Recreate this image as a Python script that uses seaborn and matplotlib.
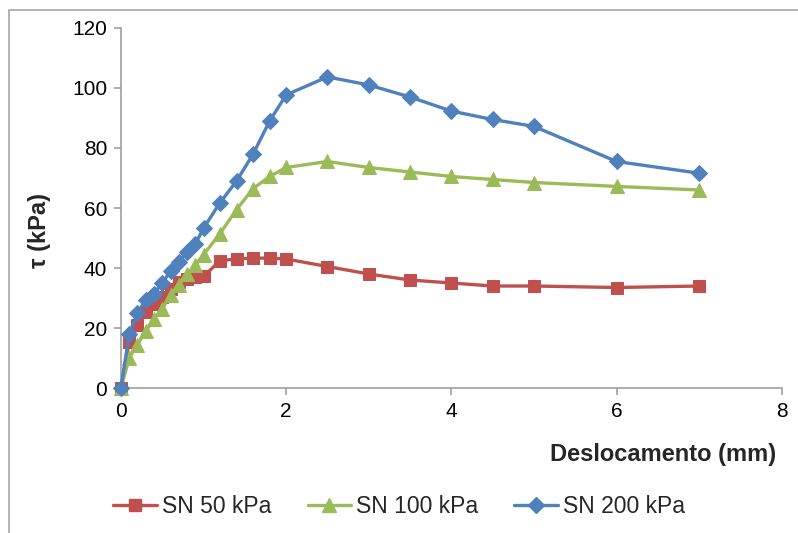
import matplotlib
matplotlib.use("Agg")
import matplotlib.pyplot as plt
import seaborn as sns
import pandas as pd
from matplotlib.lines import Line2D
from matplotlib.patches import Rectangle

x_vals = [0, 0.1, 0.2, 0.3, 0.4, 0.5, 0.6, 0.7, 0.8, 0.9, 1.0, 1.2, 1.4, 1.6, 1.8, 2.0,
          2.5, 3.0, 3.5, 4.0, 4.5, 5.0, 6.0, 7.0]
sn50 = [0, 15.5, 21, 25.5, 28, 30.5, 33, 35.5, 36.5, 37, 37.2, 42.5, 43, 43.3, 43.3, 43,
        40.5, 38, 36, 35, 34, 34, 33.5, 34]
sn100 = [0, 10, 14.5, 19, 23, 26.5, 31, 34.5, 38, 41, 44.5, 51.5, 59.5, 66.5, 70.5, 73.5,
         75.5, 73.5, 72, 70.5, 69.5, 68.5, 67.2, 66]
sn200 = [0, 18, 25, 29.5, 31.5, 35, 39, 42, 45.5, 48, 53.3, 61.8, 69, 78, 89, 97.7,
         103.7, 101, 97, 92.3, 89.5, 87.2, 75.5, 71.6]
series_names = ["SN 50 kPa", "SN 100 kPa", "SN 200 kPa"]
x_ticks = [0, 2, 4, 6, 8]
y_ticks = [0, 20, 40, 60, 80, 100, 120]

colors = ["#C0504D", "#9BBB59", "#4F81BD"]
markers = ["s", "^", "D"]
msizes = [8.5, 10, 8]

sns.set_theme(style="white")
plt.rcParams['font.family'] = ['Liberation Sans', 'DejaVu Sans']

fig = plt.figure(figsize=(7.98, 5.33), dpi=100)
ax = fig.add_axes([0.1516, 0.272, 0.828, 0.6755])

for name, vals, c, m, ms in zip(series_names, [sn50, sn100, sn200], colors, markers, msizes):
    df = pd.DataFrame({"x": x_vals, "y": vals})
    sns.lineplot(data=df, x="x", y="y", ax=ax, color=c, marker=m, markersize=ms,
                 markeredgecolor=c, linewidth=2.4, sort=False, estimator=None,
                 clip_on=False, zorder=3)

ax.set_xlim(0, 8)
ax.set_ylim(0, 120)
ax.set_xticks(x_ticks)
ax.set_yticks(y_ticks)
ax.set_xticklabels([str(t) for t in x_ticks])
ax.set_yticklabels([str(t) for t in y_ticks])
for s in ["top", "right"]:
    ax.spines[s].set_visible(False)
for s in ["left", "bottom"]:
    ax.spines[s].set_color("#A0A0A0")
    ax.spines[s].set_linewidth(1.2)
ax.tick_params(axis="both", which="major", direction="out", length=5, width=1.2,
               color="#A0A0A0", labelsize=15, labelcolor="black", pad=5,
               bottom=True, left=True)
ax.set_xlabel("")
ax.set_ylabel("")
ax.grid(False)

fig.text(0.05, 0.567, "τ (kPa)", rotation=90, ha="center", va="center",
         fontsize=17, fontweight="bold")
fig.text(0.972, 0.147, "Deslocamento (mm)", ha="right", va="center",
         fontsize=17, fontweight="bold")

handles = [Line2D([0], [0], color=c, marker=m, markersize=ms, linewidth=2.4,
                  markeredgecolor=c) for c, m, ms in zip(colors, markers, msizes)]
fig.legend(handles, series_names, loc="center", bbox_to_anchor=(0.5, 0.05),
           ncol=3, frameon=False, fontsize=16.5, handlelength=1.9, handletextpad=0.2,
           columnspacing=1.6)

fig.patches.append(Rectangle((0.011, -0.01), 1.0, 0.991, transform=fig.transFigure,
                             fill=False, edgecolor="#A6A6A6", linewidth=1.2))

fig.savefig("out.png", dpi=100)
